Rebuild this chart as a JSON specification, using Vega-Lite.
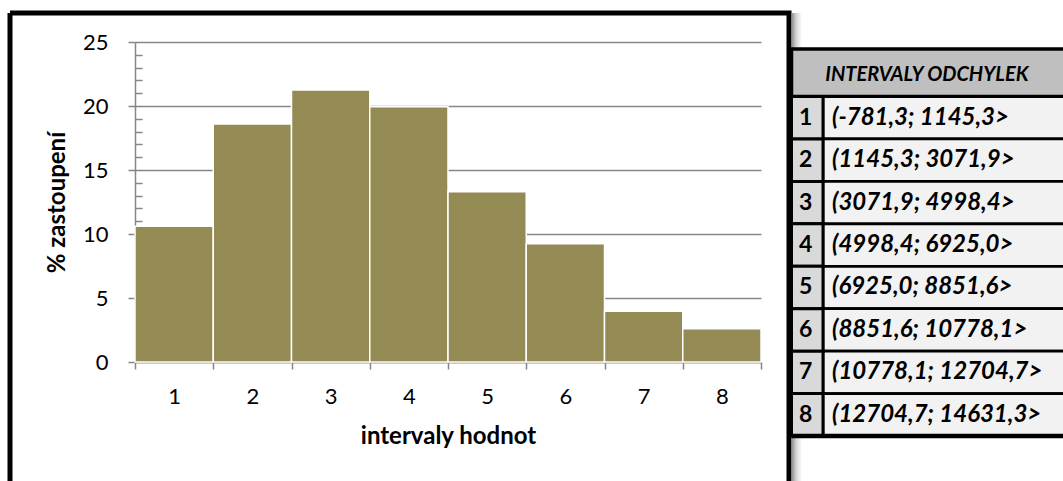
{
  "$schema": "https://vega.github.io/schema/vega-lite/v6.json",
  "autosize": {"type": "none"},
  "width": 779,
  "height": 468,
  "padding": {"left": 10, "top": 13, "right": 274, "bottom": 0},
  "background": "#FFFFFF",
  "config": {
    "font": "Lato",
    "view": {"stroke": "#000000", "strokeWidth": 5, "strokeDash": [1247, 779, 468, 0]},
    "axis": {
      "labelFont": "Lato",
      "titleFont": "Lato",
      "labelColor": "#000000",
      "titleColor": "#000000",
      "domainColor": "#868686",
      "tickColor": "#868686",
      "gridColor": "#868686",
      "domainWidth": 1.5,
      "tickWidth": 1.5,
      "gridWidth": 1.5,
      "labelFontSize": 22,
      "titleFontSize": 24,
      "titleFontWeight": "bold",
      "labelOverlap": false,
      "labelFlush": false
    }
  },
  "datasets": {
    "bars": [
      {"interval": "1", "pct": 10.6},
      {"interval": "2", "pct": 18.6},
      {"interval": "3", "pct": 21.25},
      {"interval": "4", "pct": 19.95},
      {"interval": "5", "pct": 13.3},
      {"interval": "6", "pct": 9.24},
      {"interval": "7", "pct": 3.96},
      {"interval": "8", "pct": 2.6}
    ],
    "header": [{"h": "INTERVALY ODCHYLEK"}],
    "table": [
      {"i": "1", "range": "(-781,3; 1145,3>"},
      {"i": "2", "range": "(1145,3; 3071,9>"},
      {"i": "3", "range": "(3071,9; 4998,4>"},
      {"i": "4", "range": "(4998,4; 6925,0>"},
      {"i": "5", "range": "(6925,0; 8851,6>"},
      {"i": "6", "range": "(8851,6; 10778,1>"},
      {"i": "7", "range": "(10778,1; 12704,7>"},
      {"i": "8", "range": "(12704,7; 14631,3>"}
    ]
  },
  "resolve": {
    "scale": {"x": "independent", "y": "independent"},
    "axis": {"x": "independent", "y": "independent"}
  },
  "layer": [
    {
      "data": {"name": "bars"},
      "mark": {"type": "bar", "color": "#948A54", "stroke": "#FFFFFF", "strokeWidth": 1.5},
      "encoding": {
        "x": {
          "field": "interval",
          "type": "ordinal",
          "scale": {"range": [125, 751], "paddingInner": 0, "paddingOuter": 0},
          "axis": {
            "title": "intervaly hodnot",
            "orient": "bottom",
            "offset": -119,
            "tickBand": "extent",
            "tickSize": 7,
            "labelAngle": 0,
            "labelPadding": 17,
            "titlePadding": 17,
            "grid": false
          }
        },
        "y": {
          "field": "pct",
          "type": "quantitative",
          "scale": {"domain": [0, 25], "range": [349, 29], "nice": false, "zero": true},
          "axis": {
            "title": "% zastoupení",
            "orient": "left",
            "offset": -125,
            "values": [0, 5, 10, 15, 20, 25],
            "tickSize": 7,
            "labelPadding": 20,
            "titlePadding": 13,
            "grid": true
          }
        }
      }
    },
    {
      "data": {"name": "bars"},
      "mark": {"type": "tick", "opacity": 0},
      "encoding": {
        "y": {
          "field": "pct",
          "type": "quantitative",
          "scale": {"domain": [0, 25], "range": [349, 29], "nice": false, "zero": true},
          "axis": {
            "orient": "right",
            "offset": -654,
            "values": [1, 2, 3, 4, 6, 7, 8, 9, 11, 12, 13, 14, 16, 17, 18, 19, 21, 22, 23, 24],
            "tickSize": 7,
            "labels": false,
            "domain": false,
            "grid": false,
            "title": null
          }
        }
      }
    },
    {
      "data": {"name": "header"},
      "mark": {
        "type": "rect",
        "fill": {
          "gradient": "linear",
          "x1": 0, "y1": 0, "x2": 1, "y2": 0,
          "stops": [
            {"offset": 0, "color": "#8C8C8C"},
            {"offset": 0.45, "color": "#D4D4D4"},
            {"offset": 1, "color": "#FFFFFF"}
          ]
        }
      },
      "encoding": {
        "x": {"datum": 0, "type": "quantitative", "scale": {"domain": [0, 1], "range": [781.5, 813], "nice": false, "zero": false}, "axis": null},
        "x2": {"datum": 0.33}
      }
    },
    {
      "data": {"name": "header"},
      "mark": {"type": "rect", "fill": "#BFBFBF", "stroke": "#000000", "strokeWidth": 3.5},
      "encoding": {
        "x": {"datum": 0, "type": "quantitative", "scale": {"domain": [0, 1], "range": [781.5, 813], "nice": false, "zero": false}, "axis": null},
        "x2": {"datum": 9},
        "y": {"field": "h", "type": "nominal", "scale": {"range": [36, 83.5], "paddingInner": 0, "paddingOuter": 0}, "axis": null}
      }
    },
    {
      "data": {"name": "table"},
      "mark": {"type": "rect", "fill": "#F2F2F2", "stroke": "#000000", "strokeWidth": 2.75},
      "encoding": {
        "x": {"datum": 1, "type": "quantitative", "scale": {"domain": [0, 1], "range": [781.5, 813], "nice": false, "zero": false}, "axis": null},
        "x2": {"datum": 9},
        "y": {"field": "i", "type": "ordinal", "scale": {"range": [83.5, 423], "paddingInner": 0, "paddingOuter": 0}, "axis": null}
      }
    },
    {
      "data": {"name": "table"},
      "mark": {"type": "rect", "fill": "#D9D9D9", "stroke": "#000000", "strokeWidth": 3},
      "encoding": {
        "x": {"datum": 0, "type": "quantitative", "scale": {"domain": [0, 1], "range": [781.5, 813], "nice": false, "zero": false}, "axis": null},
        "x2": {"datum": 1},
        "y": {"field": "i", "type": "ordinal", "scale": {"range": [83.5, 423], "paddingInner": 0, "paddingOuter": 0}, "axis": null}
      }
    },
    {
      "data": {"name": "table"},
      "transform": [{"filter": "datum.i === '8'"}],
      "mark": {"type": "rule", "color": "#000000", "strokeWidth": 4.5},
      "encoding": {
        "x": {"datum": 0, "type": "quantitative", "scale": {"domain": [0, 1], "range": [781.5, 813], "nice": false, "zero": false}, "axis": null},
        "x2": {"datum": 9},
        "y": {"field": "i", "type": "ordinal", "bandPosition": 1, "scale": {"range": [83.5, 423], "paddingInner": 0, "paddingOuter": 0}, "axis": null}
      }
    },
    {
      "data": {"name": "table"},
      "mark": {"type": "text", "font": "Lato", "fontSize": 23, "fontWeight": "bold", "align": "center", "baseline": "middle", "color": "#000000"},
      "encoding": {
        "x": {"datum": 0.45, "type": "quantitative", "scale": {"domain": [0, 1], "range": [781.5, 813], "nice": false, "zero": false}, "axis": null},
        "y": {"field": "i", "type": "ordinal", "scale": {"range": [83.5, 423], "paddingInner": 0, "paddingOuter": 0}, "axis": null},
        "text": {"field": "i"}
      }
    },
    {
      "data": {"name": "table"},
      "mark": {"type": "text", "font": "Lato", "fontSize": 24, "fontWeight": "bold", "fontStyle": "italic", "align": "left", "baseline": "middle", "dx": 9, "color": "#000000"},
      "encoding": {
        "x": {"datum": 1, "type": "quantitative", "scale": {"domain": [0, 1], "range": [781.5, 813], "nice": false, "zero": false}, "axis": null},
        "y": {"field": "i", "type": "ordinal", "scale": {"range": [83.5, 423], "paddingInner": 0, "paddingOuter": 0}, "axis": null},
        "text": {"field": "range"}
      }
    },
    {
      "data": {"name": "header"},
      "mark": {"type": "text", "font": "Lato", "fontSize": 20, "fontWeight": "bold", "fontStyle": "italic", "align": "center", "baseline": "middle", "dy": 2, "color": "#000000"},
      "encoding": {
        "x": {"datum": 4.3, "type": "quantitative", "scale": {"domain": [0, 1], "range": [781.5, 813], "nice": false, "zero": false}, "axis": null},
        "y": {"field": "h", "type": "nominal", "scale": {"range": [36, 83.5], "paddingInner": 0, "paddingOuter": 0}, "axis": null},
        "text": {"field": "h"}
      }
    }
  ]
}
